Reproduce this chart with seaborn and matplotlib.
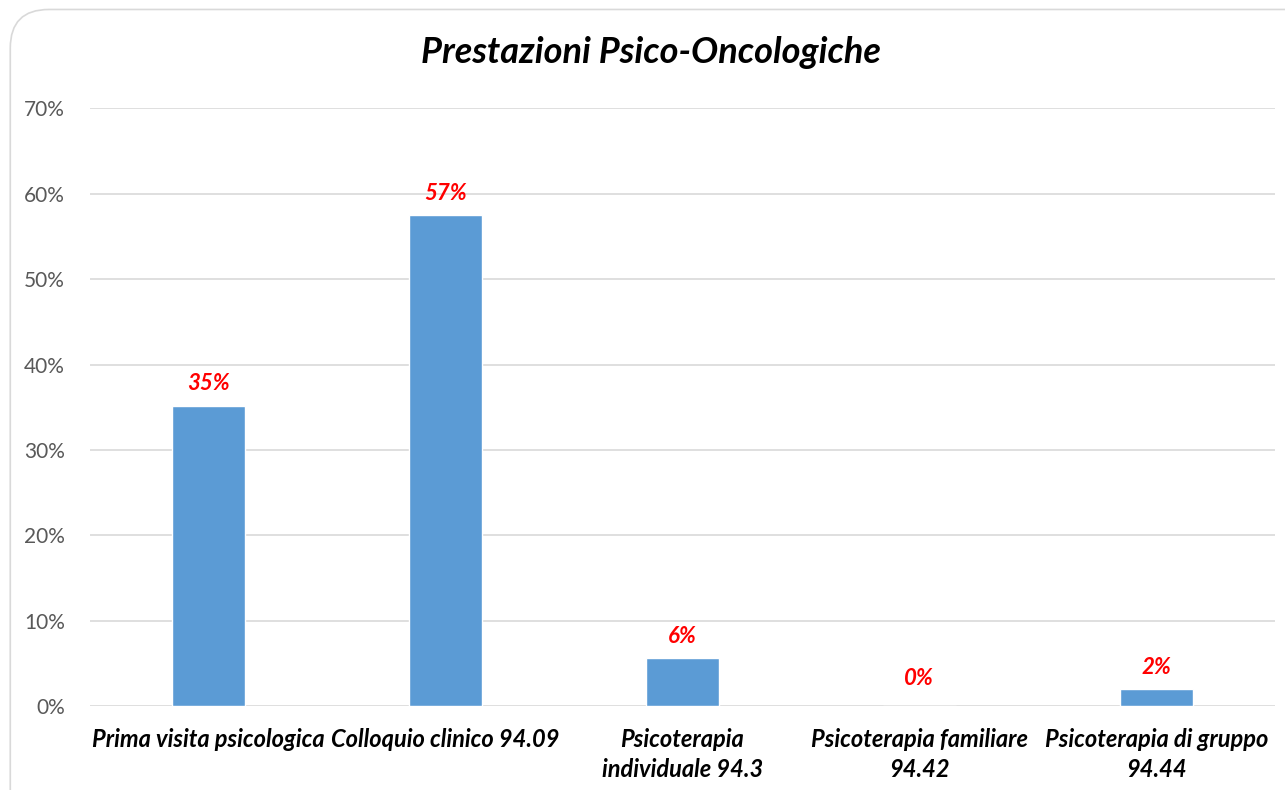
import numpy as np
import pandas as pd
import seaborn as sns
import matplotlib
matplotlib.use('Agg')
import matplotlib.pyplot as plt
from matplotlib.patches import FancyBboxPatch
from matplotlib.ticker import PercentFormatter

# data
categories = ['Prima visita psicologica', 'Colloquio clinico 94.09',
              'Psicoterapia\nindividuale 94.3', 'Psicoterapia familiare\n94.42',
              'Psicoterapia di gruppo\n94.44']
values = [0.352, 0.575, 0.056, 0.0, 0.020]
labels = ['35%', '57%', '6%', '0%', '2%']

sns.set_style('white')
plt.rcParams['font.family'] = ['Lato', 'DejaVu Sans']

df = pd.DataFrame({'cat': categories, 'val': values})

fig = plt.figure(figsize=(12.85, 7.9), dpi=100)
# rounded chart border (open to the right and bottom)
border = FancyBboxPatch((0.008, -0.2), 1.1, 1.188, boxstyle='round,pad=0,rounding_size=0.03',
                        transform=fig.transFigure, fc='none', ec='#d9d9d9', lw=1.2,
                        mutation_aspect=1285 / 790, zorder=-1)
fig.patches.append(border)
ax = fig.add_axes([0.070, 0.106, 0.922, 0.757])
ax.set_facecolor('none')
ax.set_zorder(1)

sns.barplot(data=df, x='cat', y='val', color='#5b9bd5', width=0.31, saturation=1, ax=ax, zorder=3)

ax.set_ylim(0, 0.70)
ax.set_yticks(np.arange(0, 0.71, 0.1))
ax.yaxis.set_major_formatter(PercentFormatter(1.0, decimals=0))
ax.grid(axis='y', color='#d9d9d9', lw=1.2, zorder=0)
for s in ax.spines.values():
    s.set_visible(False)
ax.tick_params(axis='y', length=0, pad=18, labelsize=15, labelcolor='#595959')
ax.tick_params(axis='x', length=0, pad=16)
ax.set_xticks(range(len(categories)))
ax.set_xticklabels(categories, fontsize=17, fontweight='bold', fontstyle='italic', color='black',
                   linespacing=1.35, va='top')
ax.set_xlabel('')
ax.set_ylabel('')

for i, (v, t) in enumerate(zip(values, labels)):
    off = 0.013 if v > 0 else 0.02
    ax.text(i, v + off, t, ha='center', va='bottom', color='#ff0000', fontsize=16,
            fontweight='bold', fontstyle='italic')

fig.text(0.507, 0.934, 'Prestazioni Psico-Oncologiche', ha='center', va='center',
         fontsize=26, fontweight='bold', fontstyle='italic', color='black')

fig.savefig('out.png', dpi=100)
